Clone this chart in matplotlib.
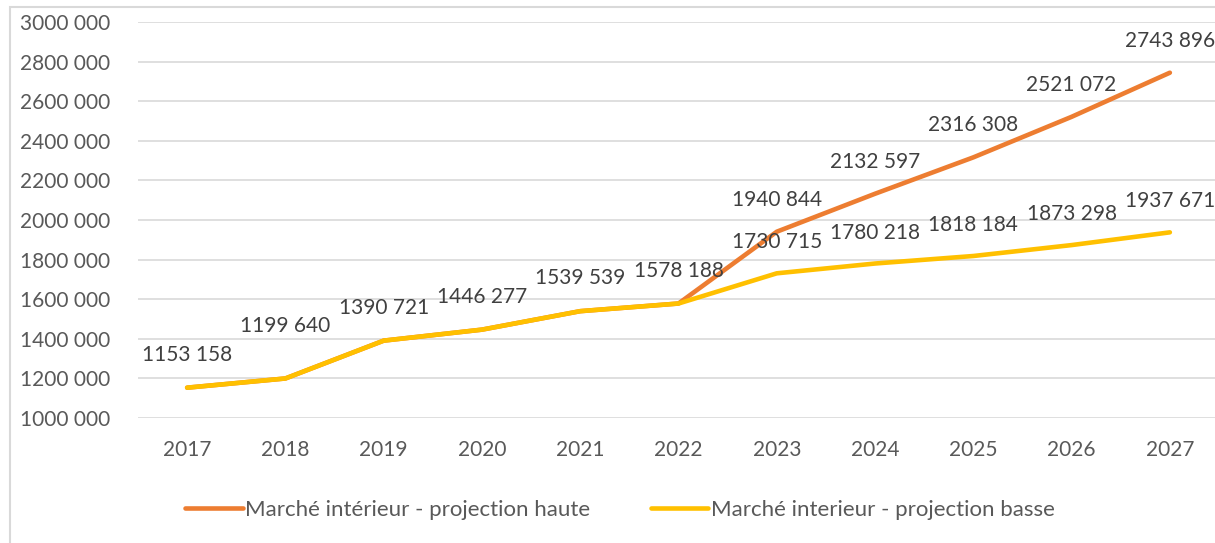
import matplotlib
matplotlib.use("Agg")
import matplotlib.pyplot as plt
from matplotlib.patches import Rectangle

years = ["2017", "2018", "2019", "2020", "2021", "2022", "2023", "2024", "2025", "2026", "2027"]
haute = [1153158, 1199640, 1390721, 1446277, 1539539, 1578188, 1940844, 2132597, 2316308, 2521072, 2743896]
basse = [1153158, 1199640, 1390721, 1446277, 1539539, 1578188, 1730715, 1780218, 1818184, 1873298, 1937671]
yticks = list(range(1000000, 3000001, 200000))

name_haute = "Marché intérieur - projection haute"
name_basse = "Marché interieur - projection basse"

c_haute = "#ED7D31"
c_basse = "#FFC000"
tick_col = "#595959"
lab_col = "#404040"
font = "Lato"

plt.rcParams['font.family'] = [font, 'DejaVu Sans']

W, H = 1215, 543
fig = plt.figure(figsize=(W / 100, H / 100), dpi=100)
ax = fig.add_axes([138 / W, 1 - 418 / H, (1219 - 138) / W, (418 - 22) / H])

x = list(range(len(years)))
ax.plot(x, haute, color=c_haute, lw=3.3, solid_capstyle='round', solid_joinstyle='round',
        label=name_haute, zorder=3)
ax.plot(x, basse, color=c_basse, lw=3.3, solid_capstyle='round', solid_joinstyle='round',
        label=name_basse, zorder=4)

ax.set_xlim(-0.5, len(years) - 0.5)
ax.set_ylim(1000000, 3000000)
ax.set_yticks(yticks)
ax.set_yticklabels([f"{v // 1000} {v % 1000:03d}" for v in yticks])
ax.set_xticks(x)
ax.set_xticklabels(years)
ax.tick_params(axis='both', length=0, colors=tick_col, labelsize=15)
ax.tick_params(axis='y', pad=85)
ax.tick_params(axis='x', pad=16)
for lab in ax.get_yticklabels():
    lab.set_horizontalalignment('left')
ax.grid(axis='y', color='#D9D9D9', lw=1.2)
ax.set_axisbelow(True)
for s in ax.spines.values():
    s.set_visible(False)


def fmt(v):
    return f"{v // 1000} {v % 1000:03d}"


n_common = 6
for i in range(len(years)):
    if i < n_common:
        off = 52 if years[i] == "2018" else 33
        ax.annotate(fmt(basse[i]), (i, basse[i]), xytext=(0, off), textcoords='offset pixels',
                    ha='center', va='center', fontsize=15, color=lab_col, zorder=5)
    else:
        ax.annotate(fmt(haute[i]), (i, haute[i]), xytext=(0, 32), textcoords='offset pixels',
                    ha='center', va='center', fontsize=15, color=lab_col, zorder=5)
        ax.annotate(fmt(basse[i]), (i, basse[i]), xytext=(0, 31), textcoords='offset pixels',
                    ha='center', va='center', fontsize=15, color=lab_col, zorder=5)

leg = fig.legend(loc='center', bbox_to_anchor=(620 / W, 1 - 510 / H), ncol=2, frameon=False,
                 fontsize=16, handlelength=2.6, handletextpad=0.1, columnspacing=2.7)
for t in leg.get_texts():
    t.set_color(tick_col)

fig.patches.append(Rectangle((10 / W, -0.1), 1.2, 1.1 - 7 / H, transform=fig.transFigure,
                             fill=False, edgecolor='#D9D9D9', lw=1.5))

fig.savefig("out.png", dpi=100)
